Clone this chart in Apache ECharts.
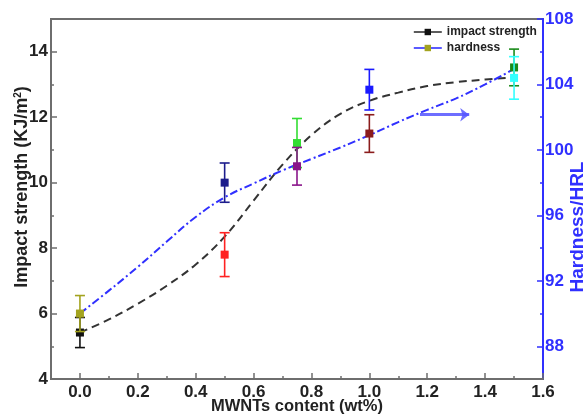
<!DOCTYPE html>
<html>
<head>
<meta charset="utf-8">
<script src="https://cdn.jsdelivr.net/npm/echarts@6/dist/echarts.min.js"></script>
<style>
html,body{margin:0;padding:0;background:#fff;}
#chart{width:586px;height:416px;}
</style>
</head>
<body>
<div id="chart"></div>
<script>
// ---- data ----
const xValues = [0, 0.5, 0.75, 1.0, 1.5];
const impactMean = [5.42, 7.80, 11.21, 12.84, 13.52];
const impactErr = [0.46, 0.67, 0.75, 0.62, 0.56];
const hardnessMean = [90.0, 98.0, 99.0, 101.0, 104.4];
const hardnessErr = [1.1, 1.2, 1.15, 1.15, 1.3];
const fitX = [0, 0.1, 0.2, 0.3, 0.4, 0.5, 0.6, 0.7, 0.8, 0.9, 1.0, 1.1, 1.2, 1.3, 1.4, 1.5];
const impactFit = [5.42, 5.82, 6.30, 6.85, 7.50, 8.35, 9.45, 10.55, 11.45, 12.10, 12.50, 12.75, 12.95, 13.07, 13.15, 13.22];
const hardnessFit = [90.0, 91.4, 92.85, 94.4, 95.9, 97.1, 97.95, 98.75, 99.45, 100.15, 100.9, 101.7, 102.45, 103.15, 104.0, 104.95];
const xTickLabels = [0, 0.2, 0.4, 0.6, 0.8, 1.0, 1.2, 1.4, 1.6];
const xMinorTicks = [0.1, 0.3, 0.5, 0.7, 0.9, 1.1, 1.3, 1.5];
const leftTickLabels = [4, 6, 8, 10, 12, 14];
const leftMinorTicks = [5, 7, 9, 11, 13];
const rightTickLabels = [88, 92, 96, 100, 104, 108];
const rightMinorTicks = [90, 94, 98, 102, 106];
const arrowFrom = [1.175, 102.15];
const arrowTo = [1.345, 102.15];

// ---- styles ----
const impactColors = ['#111111', '#ff2222', '#33dd33', '#1a1aff', '#1a8a1a'];
const hardnessColors = ['#a3a31f', '#1c1c8c', '#8a158a', '#8b1c1c', '#33ffff'];
const axisGray = '#6e6e6e';
const blue = '#3030ff';

function errRenderer(colors) {
  return function (params, api) {
    const x = api.value(0), v = api.value(1), e = api.value(2);
    const c = api.coord([x, v]);
    const t = api.coord([x, v + e]);
    const b = api.coord([x, v - e]);
    const col = colors[params.dataIndex];
    const cap = 5;
    const ls = { stroke: col, lineWidth: 1.6 };
    return {
      type: 'group',
      children: [
        { type: 'line', shape: { x1: c[0], y1: t[1], x2: c[0], y2: b[1] }, style: ls },
        { type: 'line', shape: { x1: c[0] - cap, y1: t[1], x2: c[0] + cap, y2: t[1] }, style: ls },
        { type: 'line', shape: { x1: c[0] - cap, y1: b[1], x2: c[0] + cap, y2: b[1] }, style: ls },
        { type: 'rect', shape: { x: c[0] - 4, y: c[1] - 4, width: 8, height: 8 }, style: { fill: col } }
      ]
    };
  };
}

const chart = echarts.init(document.getElementById('chart'), null, { renderer: 'canvas' });
const FF = 'Liberation Sans, Arial, sans-serif';
const labelFont = { fontFamily: FF, fontWeight: 'bold', fontSize: 17 };

const option = {
  animation: false,
  backgroundColor: '#fff',
  grid: { left: 51, right: 43, top: 19, bottom: 37, show: true, borderColor: axisGray, borderWidth: 2, containLabel: false, outerBoundsMode: 'none' },
  legend: {
    orient: 'vertical', left: 408, top: 21, itemWidth: 28, itemHeight: 8, itemGap: 4,
    data: ['impact strength', 'hardness'],
    textStyle: { fontFamily: FF, fontWeight: 'bold', fontSize: 12, color: '#222' },
    lineStyle: { type: 'solid', width: 1.6 }
  },
  xAxis: [
    {
      type: 'value', min: -0.1, max: 1.6, position: 'bottom',
      name: 'MWNTs content (wt%)', nameLocation: 'middle', nameGap: 19, nameMoveOverlap: false,
      nameTextStyle: { color: '#222', fontFamily: FF, fontWeight: 'bold', fontSize: 16.5 },
      axisLine: { show: true, onZero: false, lineStyle: { color: axisGray, width: 2 } },
      axisTick: { show: true, inside: true, length: 6, customValues: xTickLabels, lineStyle: { color: axisGray, width: 1.5 } },
      axisLabel: { customValues: xTickLabels, color: '#222', margin: 5, formatter: v => v.toFixed(1), ...labelFont },
      splitLine: { show: false }
    },
    {
      type: 'value', min: -0.1, max: 1.6, position: 'bottom',
      axisLine: { show: false, onZero: false },
      axisTick: { show: true, inside: true, length: 3, customValues: xMinorTicks, lineStyle: { color: axisGray, width: 1.5 } },
      axisLabel: { show: false },
      splitLine: { show: false }
    }
  ],
  yAxis: [
    {
      type: 'value', min: 4, max: 15, position: 'left',
      name: 'Impact strength (KJ/m{sup|2})', nameLocation: 'middle', nameGap: 19, nameMoveOverlap: false,
      nameTextStyle: { color: '#222', fontFamily: FF, fontWeight: 'bold', fontSize: 18, padding: [0, 0, 0, 24], rich: { sup: { fontSize: 10, fontWeight: 'bold', color: '#222', fontFamily: FF, padding: [0, 0, 9, 0] } } },
      axisLine: { show: true, onZero: false, lineStyle: { color: axisGray, width: 2 } },
      axisTick: { show: true, inside: true, length: 6, customValues: leftTickLabels, lineStyle: { color: axisGray, width: 1.5 } },
      axisLabel: { customValues: leftTickLabels, color: '#222', margin: 3, ...labelFont },
      splitLine: { show: false }
    },
    {
      type: 'value', min: 86, max: 108, position: 'right',
      name: 'Hardness/HRL', nameLocation: 'middle', nameGap: 25, nameMoveOverlap: false,
      nameTextStyle: { color: blue, fontFamily: FF, fontWeight: 'bold', fontSize: 19, padding: [0, 56, 0, 0] },
      axisLine: { show: true, onZero: false, lineStyle: { color: blue, width: 2 } },
      axisTick: { show: true, inside: true, length: 6, customValues: rightTickLabels, lineStyle: { color: blue, width: 1.5 } },
      axisLabel: { customValues: rightTickLabels, color: blue, margin: 2, ...labelFont },
      splitLine: { show: false }
    },
    {
      type: 'value', min: 4, max: 15, position: 'left',
      axisLine: { show: false, onZero: false },
      axisTick: { show: true, inside: true, length: 3, customValues: leftMinorTicks, lineStyle: { color: axisGray, width: 1.5 } },
      axisLabel: { show: false }, splitLine: { show: false }
    },
    {
      type: 'value', min: 86, max: 108, position: 'right',
      axisLine: { show: false, onZero: false },
      axisTick: { show: true, inside: true, length: 3, customValues: rightMinorTicks, lineStyle: { color: blue, width: 1.5 } },
      axisLabel: { show: false }, splitLine: { show: false }
    }
  ],
  series: [
    {
      name: 'impact strength', type: 'line', xAxisIndex: 0, yAxisIndex: 0,
      data: fitX.map((x, i) => [x, impactFit[i]]),
      smooth: 0.4, showSymbol: false, symbol: 'rect', symbolSize: 6,
      itemStyle: { color: '#111' },
      lineStyle: { color: '#333', width: 2, type: [8, 5] },
      z: 2
    },
    {
      name: 'hardness', type: 'line', xAxisIndex: 0, yAxisIndex: 1,
      data: fitX.map((x, i) => [x, hardnessFit[i]]),
      smooth: 0.4, showSymbol: false, symbol: 'rect', symbolSize: 6,
      itemStyle: { color: '#a3a31f' },
      lineStyle: { color: blue, width: 2, type: [8, 3, 2, 3] },
      markLine: {
        silent: true, symbol: ['none', 'arrow'], symbolSize: [10, 9],
        label: { show: false },
        lineStyle: { color: '#5555ff', width: 3, type: 'solid', opacity: 0.85 },
        data: [[{ coord: arrowFrom }, { coord: arrowTo }]]
      },
      z: 2
    },
    {
      name: 'impact points', type: 'custom', xAxisIndex: 0, yAxisIndex: 0,
      renderItem: errRenderer(impactColors),
      encode: { x: 0, y: 1 },
      data: xValues.map((x, i) => [x, impactMean[i], impactErr[i]]),
      z: 5
    },
    {
      name: 'hardness points', type: 'custom', xAxisIndex: 0, yAxisIndex: 1,
      renderItem: errRenderer(hardnessColors),
      encode: { x: 0, y: 1 },
      data: xValues.map((x, i) => [x, hardnessMean[i], hardnessErr[i]]),
      z: 5
    }
  ]
};
chart.setOption(option);
</script>
</body>
</html>
